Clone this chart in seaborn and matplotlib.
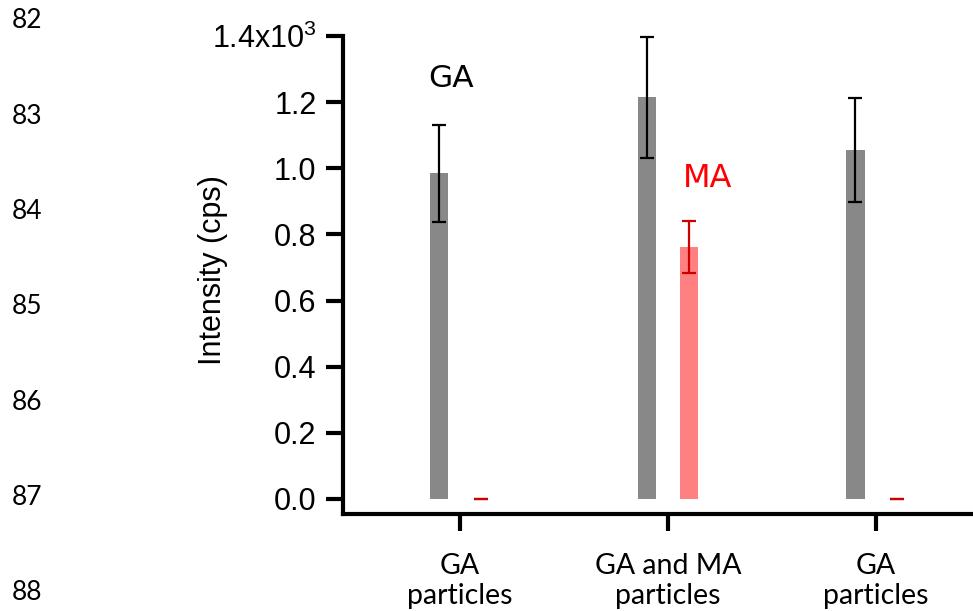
import matplotlib
matplotlib.use("Agg")
import matplotlib.pyplot as plt
import pandas as pd
import numpy as np
import seaborn as sns

# values in units of 10^3 cps
samples = ["S1", "S2", "S3"]
sample_labels = ["GA\nparticles", "GA and MA\nparticles", "GA\nparticles"]
ga_mean = [0.985, 1.215, 1.055]
ga_err = [0.147, 0.183, 0.158]
ma_mean = [0.0, 0.762, 0.0]
ma_err = [0.0, 0.078, 0.0]
ytick_vals = [0.0, 0.2, 0.4, 0.6, 0.8, 1.0, 1.2, 1.4]
ytick_labels = ["0.0", "0.2", "0.4", "0.6", "0.8", "1.0", "1.2", "1.4x10$^{3}$"]
line_numbers = [82, 83, 84, 85, 86, 87, 88]

sns.set_style("ticks")
plt.rcParams["font.family"] = ["Liberation Sans", "DejaVu Sans"]
plt.rcParams["text.color"] = "black"
plt.rcParams["axes.labelcolor"] = "black"
plt.rcParams["xtick.color"] = "black"
plt.rcParams["ytick.color"] = "black"
plt.rcParams["axes.edgecolor"] = "black"
plt.rcParams["mathtext.fontset"] = "custom"
plt.rcParams["mathtext.rm"] = "Liberation Sans"
plt.rcParams["mathtext.it"] = "Liberation Sans"

df = pd.DataFrame({
    "sample": samples * 2,
    "element": ["GA"] * 3 + ["MA"] * 3,
    "value": ga_mean + ma_mean,
})

fig = plt.figure(figsize=(9.73, 6.11), dpi=100)
ax = fig.add_axes([343 / 973, 97 / 611, 630 / 973, 478 / 611])

sns.barplot(data=df, x="sample", y="value", hue="element", order=samples,
            hue_order=["GA", "MA"], palette={"GA": "#888888", "MA": "#ff8080"},
            saturation=1, width=0.4, gap=0.555, errorbar=None, legend=False,
            linewidth=0, ax=ax)

pos = np.arange(len(samples))
ax.errorbar(pos - 0.1, ga_mean, yerr=ga_err, fmt="none", ecolor="black",
            elinewidth=1.6, capsize=5, capthick=1.6, clip_on=False, zorder=5)
ax.errorbar(pos + 0.1, ma_mean, yerr=ma_err, fmt="none", ecolor="#cc0000",
            elinewidth=1.6, capsize=5, capthick=1.6, clip_on=False, zorder=5)

ax.text(-0.045, 1.246, "GA", color="black", fontsize=22.5, ha="center",
        va="baseline", family="DejaVu Sans")
ax.text(1.19, 0.943, "MA", color="#ff0000", fontsize=23, ha="center",
        va="baseline", family="DejaVu Sans")

ax.set_xlim(-0.5625, 2.466)
ax.set_ylim(-0.0454, 1.4)
ax.set_yticks(ytick_vals)
ax.set_yticklabels(ytick_labels, fontsize=22, family="Liberation Sans")
ax.set_xticks(pos)
ax.set_xticklabels(sample_labels, fontsize=20.5, family="Lato", linespacing=1.2)
ax.set_xlabel("")
ax.set_ylabel("Intensity (cps)", fontsize=22, family="Liberation Sans")
ax.yaxis.set_label_coords(-0.183, 0.51)

for side in ["top", "right"]:
    ax.spines[side].set_visible(False)
for side in ["left", "bottom"]:
    ax.spines[side].set_linewidth(3)
ax.tick_params(axis="both", length=12, width=3, color="black")
ax.tick_params(axis="y", pad=7)
ax.tick_params(axis="x", pad=16)

for i, n in enumerate(line_numbers):
    fig.text(12 / 973, 1 - (21 + i * 95.3) / 611, str(n), fontsize=19,
             family="Lato", ha="left", va="center")

fig.savefig("out.png", dpi=100)
